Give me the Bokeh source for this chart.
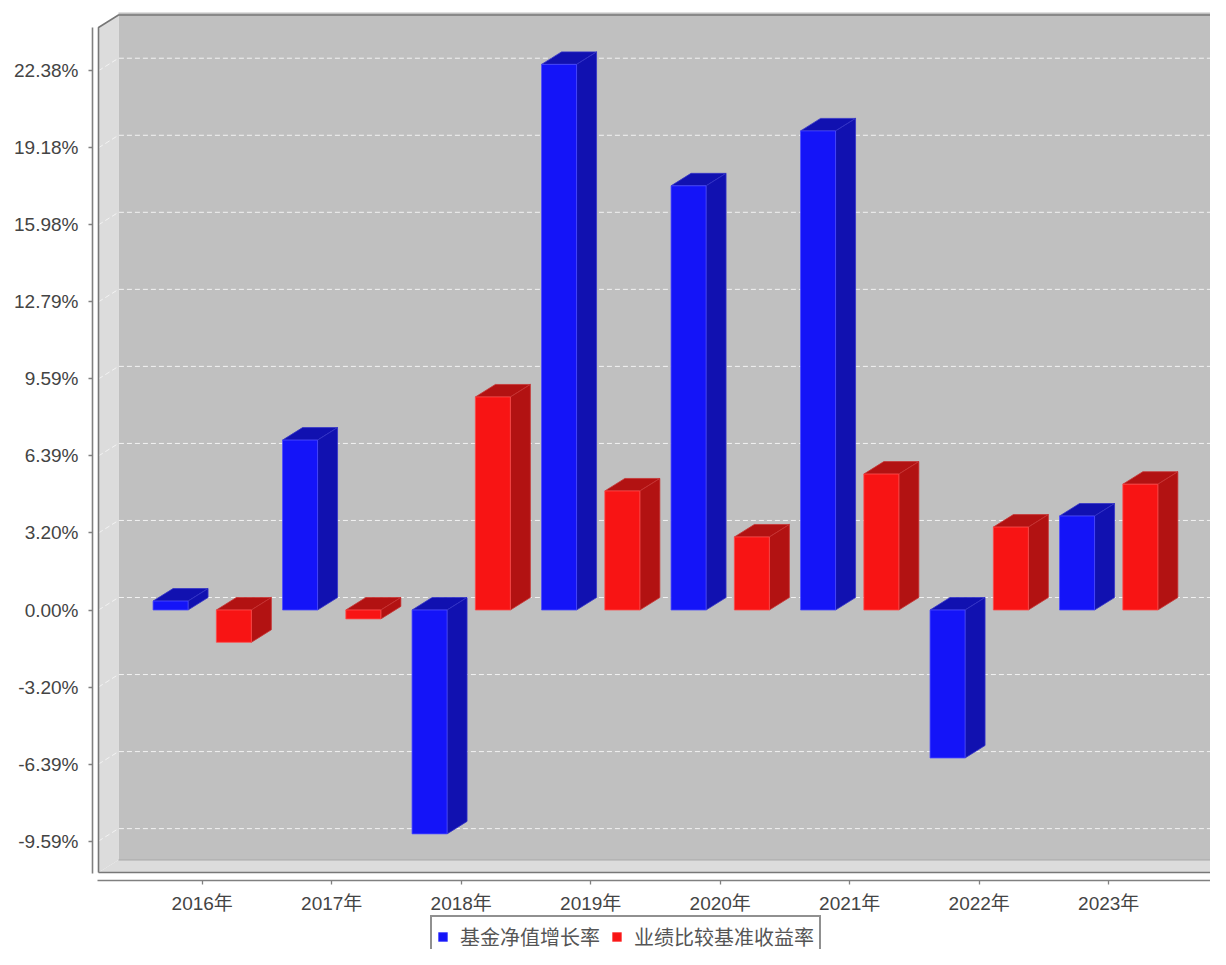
from bokeh.plotting import figure
from bokeh.models import FixedTicker, Legend, LegendItem, Range1d, LinearAxis
from bokeh.embed import file_html
from bokeh.resources import INLINE

# ---------------- data ----------------
years = ["2016年", "2017年", "2018年", "2019年", "2020年", "2021年", "2022年", "2023年"]
fund = [0.37, 7.05, -9.29, 22.64, 17.60, 19.88, -6.14, 3.90]
bench = [-1.34, -0.37, 8.84, 4.94, 3.03, 5.64, 3.44, 5.22]
series_names = ["基金净值增长率", "业绩比较基准收益率"]
y_ticks = [-9.5898, -6.3932, -3.1966, 0.0, 3.1966, 6.3932, 9.5898, 12.7864, 15.983, 19.1796, 22.3762]
y_labels = ["-9.59%", "-6.39%", "-3.20%", "0.00%", "3.20%", "6.39%", "9.59%", "12.79%", "15.98%", "19.18%", "22.38%"]

# ---------------- geometry (screen px -> data) ----------------
W, H = 1210, 949
PX_X, X0_PX = 129.5, 201.7
PX_Y, Y0_PX = 24.1, 609.5


def xd(px):
    return (px - X0_PX) / PX_X


def yd(py):
    return (Y0_PX - py) / PX_Y


FRAME_L, FRAME_T = 92, 12
DX = 20 / PX_X
DY = 12.5 / PX_Y
XL, XR = xd(98), xd(1213)
YB, YT = yd(872), yd(27)
X_START, X_END = xd(FRAME_L), xd(W)
Y_START, Y_END = yd(H), yd(FRAME_T)
OFF = 31.65 / PX_X
HW = 17.5 / PX_X

FONT = "Liberation Sans, Noto Sans CJK SC"

p = figure(width=W, height=H, output_backend="svg", toolbar_location=None,
           x_range=Range1d(X_START, X_END), y_range=Range1d(Y_START, Y_END),
           x_axis_location=None,
           min_border_left=FRAME_L, min_border_right=0, min_border_top=FRAME_T, min_border_bottom=0)
p.outline_line_color = None
p.background_fill_color = "white"
p.border_fill_color = "white"
p.xgrid.visible = False
p.ygrid.visible = False

# walls
p.quad(left=[XL + DX], right=[X_END + 1], bottom=[YB + DY], top=[Y_END + 1],
       fill_color="#C0C0C0", line_color=None)
p.patch([XL, XL, XL + DX, XL + DX], [YB, YT, YT + DY, YB + DY],
        fill_color="#DCDCDC", line_color=None)
p.patch([XL, XR, XR + DX, XL + DX], [YB, YB, YB + DY, YB + DY],
        fill_color="#DCDCDC", line_color=None)
p.line([XL + DX, X_END + 1], [YB + DY, YB + DY], line_color="#A8A8A8", line_width=1)

# gridlines
gx = [[XL, XL + DX, X_END + 1] for _ in y_ticks]
gy = [[t, t + DY, t + DY] for t in y_ticks]
p.multi_line(gx, gy, line_color="#F2F2F2", line_width=1, line_dash="5 3")

# outline
p.line([XL, XL, XL + DX, X_END + 1], [YB, YT, YT + DY, YT + DY], line_color="#777777", line_width=1.6)
p.line([XL, XR, XR + DX], [YB, YB, YB + DY], line_color="#777777", line_width=1.6)


def draw_series(vals, sign, front, dark, edge_front, edge_dark):
    lefts, rights, bots, tops = [], [], [], []
    pxs, pys = [], []
    for i, v in enumerate(vals):
        c = i + sign * OFF
        x0, x1 = c - HW, c + HW
        lo, hi = min(0, v), max(0, v)
        lefts.append(x0); rights.append(x1); bots.append(lo); tops.append(hi)
        pxs.append([x0, x1, x1 + DX, x0 + DX]); pys.append([hi, hi, hi + DY, hi + DY])
        pxs.append([x1, x1 + DX, x1 + DX, x1]); pys.append([lo, lo + DY, hi + DY, hi])
    p.patches(pxs, pys, fill_color=dark, line_color=edge_dark, line_width=0.8)
    return p.quad(left=lefts, right=rights, bottom=bots, top=tops,
                  fill_color=front, line_color=edge_front, line_width=0.8)


r_fund = draw_series(fund, -1, "#1414F8", "#1111B0", "#4a4aff", "#3434c8")
r_bench = draw_series(bench, 1, "#F81414", "#B21212", "#ff4a4a", "#c83434")

# axes
xaxis = LinearAxis(fixed_location=yd(880))
p.add_layout(xaxis, "below")
xaxis.ticker = FixedTicker(ticks=list(range(len(years))))
xaxis.major_label_overrides = {i: y for i, y in enumerate(years)}
xaxis.bounds = (xd(97), XR)
p.yaxis.ticker = FixedTicker(ticks=y_ticks)
p.yaxis.major_label_overrides = {t: l for t, l in zip(y_ticks, y_labels)}
p.yaxis.bounds = (yd(873), YT)
for ax in (xaxis, p.yaxis[0]):
    ax.axis_line_color = "#808080"
    ax.axis_line_width = 1.6
    ax.major_tick_line_color = "#808080"
    ax.major_tick_line_width = 1.3
    ax.major_tick_in = 0
    ax.major_tick_out = 4
    ax.minor_tick_line_color = None
    ax.major_label_text_font = FONT
    ax.major_label_text_font_size = "19px"
    ax.major_label_text_color = "#444444"
p.yaxis.major_label_standoff = 10
xaxis.major_label_standoff = 8

legend = Legend(items=[LegendItem(label=series_names[0], renderers=[r_fund]),
                       LegendItem(label=series_names[1], renderers=[r_bench])],
                orientation="horizontal", location=(430 - FRAME_L, -9))
legend.label_text_font = FONT
legend.label_text_font_size = "20px"
legend.label_text_color = "#555555"
legend.glyph_width = 11
legend.glyph_height = 11
legend.label_standoff = 12
legend.spacing = 11
legend.padding = 5
legend.margin = 0
legend.border_line_color = "#222222"
legend.border_line_width = 2
legend.background_fill_color = "white"
legend.background_fill_alpha = 1
p.add_layout(legend, "center")

open("out.html", "w").write(file_html(p, INLINE))
